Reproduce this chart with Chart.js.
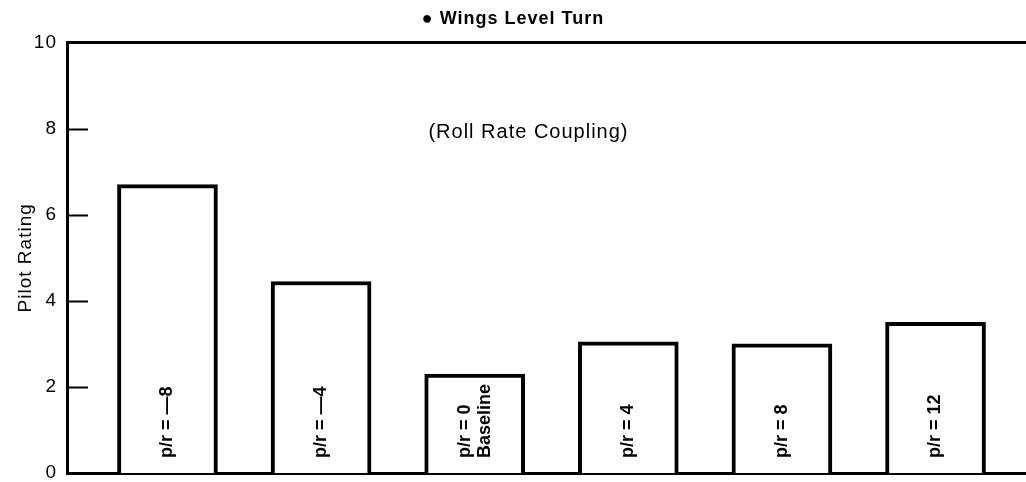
<!DOCTYPE html>
<html>
<head>
<meta charset="utf-8">
<script src="https://cdn.jsdelivr.net/npm/chart.js@4/dist/chart.umd.min.js"></script>
<style>
  html, body { margin: 0; padding: 0; background: #fff; }
  #wrap { width: 1026px; height: 482px; }
</style>
</head>
<body>
<div id="wrap"><canvas id="chart" width="1026" height="482"></canvas></div>
<script>
const categories = [['p/r = \u20148'], ['p/r = \u20144'], ['p/r = 0', 'Baseline'], ['p/r = 4'], ['p/r = 8'], ['p/r = 12']];
const ratings = [6.7, 4.45, 2.3, 3.05, 3.0, 3.5];
const yTicks = [0, 2, 4, 6, 8, 10];
const titleText = '\u25CF Wings Level Turn';
const noteText = '(Roll Rate Coupling)';

const INK = '#000';
const FONT = '"Liberation Sans", Arial, sans-serif';

Chart.defaults.font.family = FONT;
Chart.defaults.color = INK;

// typewriter-ish spacing for the axis text and title
const spacing = {
  id: 'spacing',
  beforeDraw(chart) { chart.ctx.letterSpacing = '1px'; },
  afterDraw(chart) { chart.ctx.letterSpacing = '0px'; },
};

// frame line on top, inward tick marks, the note and the labels inside each bar
const decorations = {
  id: 'decorations',
  afterDatasetsDraw(chart) {
    const { ctx, chartArea: area, scales: { x, y } } = chart;
    ctx.save();
    ctx.strokeStyle = INK;
    ctx.lineWidth = 3;
    ctx.beginPath();
    ctx.moveTo(area.left - 1, area.top);
    ctx.lineTo(area.right, area.top);
    ctx.stroke();

    ctx.lineWidth = 2;
    yTicks.slice(1, -1).forEach((t) => {
      const py = Math.round(y.getPixelForValue(t)) + 0.5;
      ctx.beginPath();
      ctx.moveTo(area.left, py);
      ctx.lineTo(area.left + 21, py);
      ctx.stroke();
    });

    ctx.fillStyle = INK;
    ctx.letterSpacing = '1px';
    ctx.font = `20px ${FONT}`;
    ctx.textAlign = 'center';
    ctx.textBaseline = 'middle';
    ctx.fillText(noteText, x.getPixelForValue(2.35), y.getPixelForValue(7.9));

    const bars = chart.getDatasetMeta(0).data;
    ctx.letterSpacing = '0px';
    ctx.font = `bold 18px ${FONT}`;
    ctx.textAlign = 'left';
    bars.forEach((bar, i) => {
      const lines = categories[i];
      const lh = 20;
      ctx.save();
      ctx.translate(bar.x, y.getPixelForValue(0) - 15);
      ctx.rotate(-Math.PI / 2);
      lines.forEach((line, j) => {
        const off = (j - (lines.length - 1) / 2) * lh;
        ctx.fillText(line, 0, off);
      });
      ctx.restore();
    });
    ctx.restore();
  },
};

new Chart(document.getElementById('chart'), {
  type: 'bar',
  data: {
    datasets: [{
      data: ratings.map((v, i) => ({ x: i, y: v })),
      backgroundColor: '#fff',
      borderColor: INK,
      borderWidth: 4,
      barThickness: 100,
    }],
  },
  options: {
    responsive: false,
    animation: false,
    layout: { padding: 0, autoPadding: false },
    plugins: {
      legend: { display: false },
      tooltip: { enabled: false },
      title: {
        display: true,
        text: titleText,
        color: INK,
        font: { size: 18, weight: 'bold' },
        padding: { top: 8, bottom: 13 },
      },
    },
    scales: {
      x: {
        type: 'linear',
        offset: false,
        min: -0.654,
        max: 5.589,
        ticks: { display: false },
        grid: { display: false },
        border: { display: true, color: INK, width: 3 },
        afterFit(scale) { scale.height = 9; },
      },
      y: {
        min: 0,
        max: 10,
        afterBuildTicks(scale) { scale.ticks = yTicks.map((v) => ({ value: v })); },
        ticks: { color: INK, font: { size: 19 }, padding: 10 },
        grid: { display: false, drawTicks: false },
        border: { display: true, color: INK, width: 3 },
        title: {
          display: true,
          text: 'Pilot Rating',
          color: INK,
          font: { size: 19 },
          padding: { top: 14, bottom: 0 },
        },
        afterFit(scale) {
          scale.width = 67;
          scale.paddingTop = 0;
          scale.paddingBottom = 0;
        },
      },
    },
  },
  plugins: [spacing, decorations],
});
</script>
</body>
</html>
